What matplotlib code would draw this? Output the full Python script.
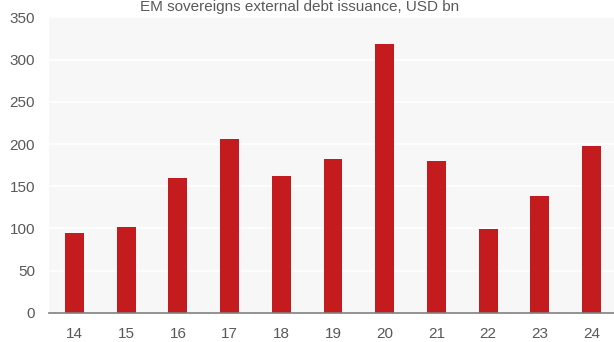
import matplotlib
matplotlib.use("Agg")
import matplotlib.pyplot as plt

years = ["14", "15", "16", "17", "18", "19", "20", "21", "22", "23", "24"]
issuance = [94, 101.5, 160, 206, 161.5, 182, 318, 179.5, 99, 138, 198]
yticks = [0, 50, 100, 150, 200, 250, 300, 350]
title = "EM sovereigns external debt issuance, USD bn"

plt.rcParams["font.family"] = ["Liberation Sans", "DejaVu Sans"]
W, H = 614, 342
fig = plt.figure(figsize=(W / 100, H / 100), dpi=100)
ax = fig.add_axes([49 / W, 1 - 312.7 / H, (W - 49) / W, (312.7 - 17.5) / H])
ax.set_facecolor("#F7F7F7")

x = list(range(len(years)))
ax.bar(x, issuance, width=0.367, color="#C41C1E", zorder=3)

ax.set_ylim(0, 350)
ax.set_xlim(-0.493, 10.435)
ax.set_yticks(yticks)
ax.set_xticks(x)
ax.set_xticklabels(years)
ax.grid(axis="y", color="white", linewidth=1.2, zorder=1)
ax.set_axisbelow(True)
for s in ["top", "right", "left"]:
    ax.spines[s].set_visible(False)
ax.spines["bottom"].set_color("#808080")
ax.spines["bottom"].set_linewidth(1.2)
ax.spines["bottom"].set_zorder(4)
ax.tick_params(axis="y", length=0, pad=10, labelsize=11, labelcolor="#595959")
ax.tick_params(axis="x", length=0, pad=10, labelsize=11, labelcolor="#595959")

fig.text(300 / W, 1 - 11 / H, title, ha="center", va="baseline", fontsize=11, color="#595959")

fig.savefig("out.png", dpi=100)
